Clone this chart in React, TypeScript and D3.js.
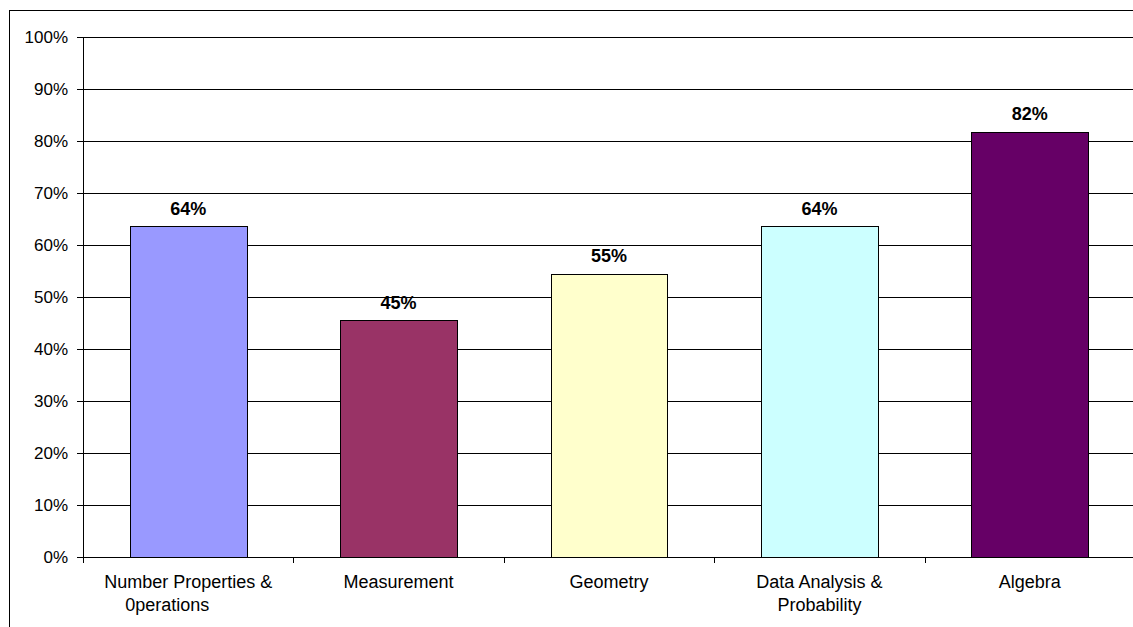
import React from "react";
import * as d3 from "d3";

const categories: string[][] = [
  ["Number Properties &", "0perations"],
  ["Measurement"],
  ["Geometry"],
  ["Data Analysis &", "Probability"],
  ["Algebra"],
];
const values: number[] = [0.636, 0.455, 0.545, 0.636, 0.818];
const valueLabels: string[] = ["64%", "45%", "55%", "64%", "82%"];
const colors: string[] = ["#9999FF", "#993366", "#FFFFCC", "#CCFFFF", "#660066"];
const yTicks: number[] = [0, 0.1, 0.2, 0.3, 0.4, 0.5, 0.6, 0.7, 0.8, 0.9, 1.0];
const lineShift: number[][] = [[0, -21], [0], [0], [0, 0], [0]];

export default function App() {
  const W = 1133, H = 627;
  const left = 83, right = 1135, top = 37, bottom = 557;
  const idx = categories.map((_, i) => String(i));
  const x = d3.scaleBand<string>().domain(idx).range([left, right]).paddingInner(0).paddingOuter(0);
  const bw = x.bandwidth();
  const barW = bw / 1.8;
  const y = d3.scaleLinear().domain([0, 1]).range([bottom, top]);
  const font = "'Liberation Sans', Arial, sans-serif";
  const boundaries = d3.range(categories.length + 1).map((i) => left + i * bw);

  return (
    <svg width={W} height={H} style={{ position: "absolute", left: 0, top: 0, display: "block" }} fontFamily={font}>
      <rect x={0} y={0} width={W} height={H} fill="#fff" />
      <rect x={9.5} y={10.5} width={1140} height={640} fill="none" stroke="#000" strokeWidth={1} />
      {yTicks.map((t, i) => (
        <g key={i}>
          {t > 0 && (
            <line x1={left} x2={right} y1={Math.round(y(t)) + 0.5} y2={Math.round(y(t)) + 0.5} stroke="#000" strokeWidth={1} />
          )}
          <line x1={77} x2={left} y1={Math.round(y(t)) + 0.5} y2={Math.round(y(t)) + 0.5} stroke="#000" strokeWidth={1} />
          <text x={68} y={y(t)} dy="0.36em" textAnchor="end" fontSize={17} fill="#000">
            {d3.format(".0%")(t)}
          </text>
        </g>
      ))}
      {values.map((v, i) => {
        const cx = (x(String(i)) as number) + bw / 2;
        const x0 = Math.round(cx - barW / 2) + 0.5;
        const x1 = Math.round(cx + barW / 2) + 0.5;
        const yt = Math.round(y(v)) + 0.5;
        return (
          <g key={i}>
            <rect x={x0} y={yt} width={x1 - x0} height={bottom + 0.5 - yt} fill={colors[i]} stroke="#000" strokeWidth={1} />
            <text x={cx} y={y(v) - 11.5} textAnchor="middle" fontSize={18} fontWeight="bold" fill="#000">
              {valueLabels[i]}
            </text>
          </g>
        );
      })}
      <line x1={left + 0.5} x2={left + 0.5} y1={top} y2={bottom + 6} stroke="#000" strokeWidth={1} />
      <line x1={left} x2={right} y1={bottom + 0.5} y2={bottom + 0.5} stroke="#000" strokeWidth={1} />
      {boundaries.map((b, i) => (
        <line key={i} x1={Math.round(b) + 0.5} x2={Math.round(b) + 0.5} y1={bottom} y2={bottom + 6} stroke="#000" strokeWidth={1} />
      ))}
      {categories.map((lines, i) => {
        const cx = (x(String(i)) as number) + bw / 2;
        return (
          <text key={i} textAnchor="middle" fontSize={18} fill="#000">
            {lines.map((l, j) => (
              <tspan key={j} x={cx + lineShift[i][j]} y={588 + j * 23}>
                {l}
              </tspan>
            ))}
          </text>
        );
      })}
    </svg>
  );
}
